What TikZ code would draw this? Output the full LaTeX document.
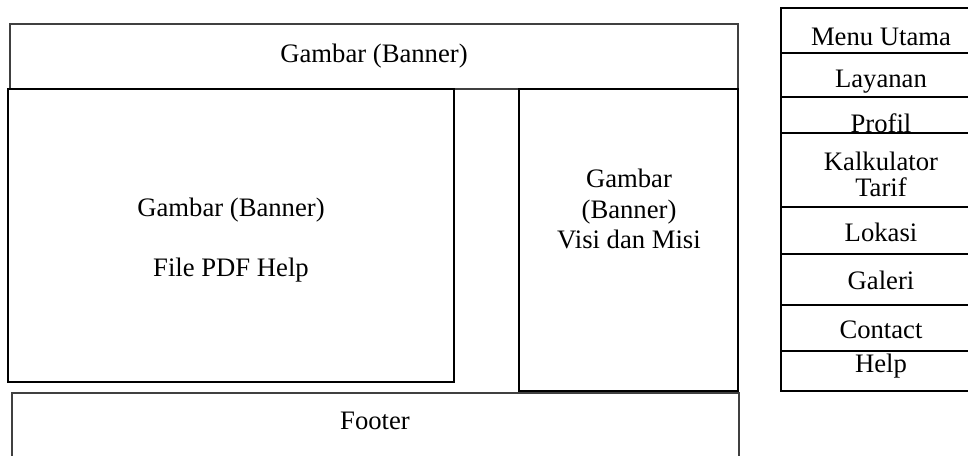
\documentclass[tikz,border=0pt]{standalone}
\usepackage{fontspec}
\setmainfont{Liberation Serif}
\usepackage{xcolor}
\usetikzlibrary{positioning}

\begin{document}
\begin{tikzpicture}[x=0.75pt, y=-0.75pt]
		\tikzstyle{frame} = [line width=1.5pt, draw=black]
		\tikzstyle{softframe} = [line width=1.3pt, draw=black!75]
		\tikzstyle{txt} = [draw=none, align=center, font=\fontsize{20}{23}\selectfont]
		\tikzstyle{menutxt} = [draw=none, align=center, font=\fontsize{20}{19.5}\selectfont]
		
		\useasboundingbox (0, 0) rectangle (968, 456);
		\clip (0, 0) rectangle (968, 456);
		
		% page layout
		\draw[softframe] (10, 24) rectangle (738, 89);
		\draw[frame] (8, 89) rectangle (454, 382);
		\draw[frame] (519, 89) rectangle (738, 391);
		\draw[softframe] (12, 393) rectangle (739, 470);
		
		\node[txt] 	at (374, 56)	(banner) 	{Gambar (Banner)};
		\node[txt] 	at (231, 240)	(pdfhelp) 	{Gambar (Banner)\\[22pt]File PDF Help};
		\node[txt] 	at (629, 209)	(visimisi) 	{Gambar\\(Banner)\\Visi dan Misi};
		\node[txt] 	at (375, 421)	(footer) 	{Footer};
		
		% menu
		\draw[frame] (781, 8) rectangle (981, 391);
		\foreach \y in {53, 97, 133, 207, 254, 305, 351}
			\draw[frame] (781, \y) -- (981, \y);
		
		\node[menutxt] 	at (881, 37)	(utama) 	{Menu Utama};
		\node[menutxt] 	at (881, 82)	(layanan) 	{Layanan};
		\node[menutxt] 	at (881, 123)	(profil) 	{Profil};
		\node[menutxt] 	at (881, 174)	(kalkulator) 	{Kalkulator\\Tarif};
		\node[menutxt] 	at (881, 232)	(lokasi) 	{Lokasi};
		\node[menutxt] 	at (881, 280)	(galeri) 	{Galeri};
		\node[menutxt] 	at (881, 330)	(contact) 	{Contact};
		\node[menutxt] 	at (881, 366)	(help) 	{Help};
	\end{tikzpicture}
\end{document}
